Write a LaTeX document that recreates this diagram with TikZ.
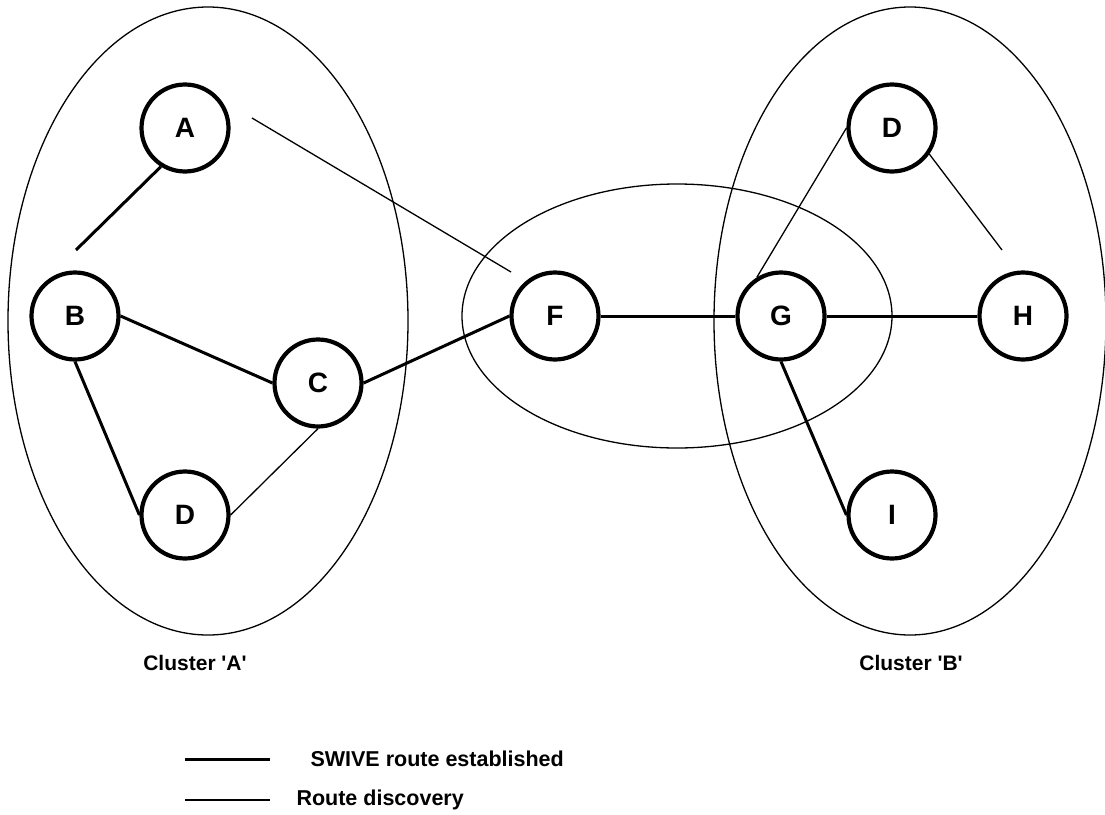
\documentclass[tikz,border=0pt]{standalone}
\usepackage{fontspec}
\setmainfont{Liberation Sans}
\usepackage{tikz}

\tikzset{
  station/.style={draw,circle,line width=4.2pt,minimum size=87pt,inner sep=0pt,
    font=\fontsize{28}{32}\selectfont\bfseries},
  swive/.style={line width=3pt},
  discovery/.style={line width=1.3pt},
  cluster/.style={line width=1.3pt},
  caption/.style={font=\fontsize{21}{25}\selectfont\bfseries},
  legendtext/.style={anchor=west,font=\fontsize{21.5}{25}\selectfont\bfseries}
}

\begin{document}
\begin{tikzpicture}[x=1pt,y=-1pt]
   \useasboundingbox (0,0) rectangle (1105,814);
   % Clusters
   \draw[cluster] (208,321) ellipse [x radius=200pt, y radius=314pt];
   \draw[cluster] (910,321) ellipse [x radius=196pt, y radius=314pt];
   \draw[cluster] (677,316) ellipse [x radius=215pt, y radius=132pt];
   \node[caption] (capA) at (195,663) {Cluster \textquotesingle A\textquotesingle};
   \node[caption] (capB) at (911,663) {Cluster \textquotesingle B\textquotesingle};
   % Cluster A stations
   \node[station] (A)  at (185,128) {A};
   \node[station] (B)  at (75,316)  {B};
   \node[station] (C)  at (318,383) {C};
   \node[station] (D1) at (185,515) {D};
   % Gateways
   \node[station] (F)  at (555,316) {F};
   \node[station] (G)  at (781,316) {G};
   % Cluster B stations
   \node[station] (D2) at (892,128) {D};
   \node[station] (H)  at (1023,316) {H};
   \node[station] (I)  at (892,515) {I};
   % Free ends
   \coordinate (ab) at (76,250);
   \coordinate (af1) at (252,118);
   \coordinate (af2) at (511,272);
   \coordinate (dh) at (1002,250);
   % Routes established
   \draw[swive] (A.238) -- (ab);
   \draw[swive] (B.east) -- (C.west);
   \draw[swive] (B.south) -- (D1.west);
   \draw[swive] (C.east) -- (F.west);
   \draw[swive] (F.east) -- (G.west);
   \draw[swive] (G.east) -- (H.west);
   \draw[swive] (G.south) -- (I.west);
   % Route discovery
   \draw[discovery] (af1) -- (af2);
   \draw[discovery] (C.south) -- (D1.east);
   \draw[discovery] (D2.west) -- (G.122);
   \draw[discovery] (D2.-35) -- (dh);
   % Legend
   \coordinate (l1a) at (185,759);
   \coordinate (l1b) at (270,759);
   \coordinate (l2a) at (185,800);
   \coordinate (l2b) at (270,800);
   \draw[swive] (l1a) -- (l1b);
   \draw[discovery] (l2a) -- (l2b);
   \node[legendtext] (leg1) at (307,759) {SWIVE route established};
   \node[legendtext] (leg2) at (293,800) {Route discovery};
\end{tikzpicture}
\end{document}
